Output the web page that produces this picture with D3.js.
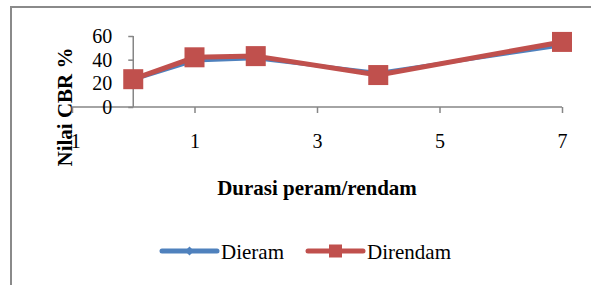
<!DOCTYPE html>
<html><head><meta charset="utf-8">
<script src="https://cdn.jsdelivr.net/npm/d3@7"></script>
<style>body{margin:0;background:#fff}svg{display:block}</style>
</head><body><svg id="c" width="591" height="285"></svg>
<script>
const durations = [0, 1, 2, 4, 7];
const dieram = [23, 39, 41, 29, 52];
const direndam = [23.5, 42, 43, 27, 55];
const xTicks = [-1, 1, 3, 5, 7];
const yTicks = [0, 20, 40, 60];
const seriesNames = ["Dieram", "Direndam"];
const colors = ["#4F81BD", "#C0504D"];
const FONT = "'Liberation Serif', 'Times New Roman', serif";

const svg = d3.select("#c");
// frame
svg.append("rect").attr("x", 11).attr("y", 7).attr("width", 620).attr("height", 320)
  .attr("fill", "none").attr("stroke", "#8a8a8a").attr("stroke-width", 2);

const x = d3.scaleLinear().domain([-1, 7]).range([72, 562]);
const y = d3.scaleLinear().domain([0, 60]).range([107, 36]);
const axisColor = "#868686";

// y title (drawn first so the tick label "-1" stays on top)
svg.append("text").attr("transform", "translate(72,107) rotate(-90)").attr("text-anchor", "middle")
  .attr("font-size", 21).attr("font-weight", "bold").text("Nilai CBR %");

// x axis
const gx = svg.append("g").attr("transform", `translate(0,${y(0)})`)
  .call(d3.axisBottom(x).tickValues(xTicks).tickSize(6).tickFormat(d => String(d)));
gx.select(".domain").attr("stroke", axisColor).attr("stroke-width", 1.5).attr("d", `M${x(-1)},0H${x(7)}`);
gx.selectAll(".tick line").attr("stroke", axisColor).attr("stroke-width", 1.5);
gx.selectAll(".tick text").attr("font-size", 20).attr("fill", "#000").attr("dy", null).attr("y", 41);

// y axis
const gy = svg.append("g").attr("transform", `translate(${x(0)},0)`)
  .call(d3.axisLeft(y).tickValues(yTicks).tickSize(5).tickPadding(16).tickFormat(d => String(d)));
gy.select(".domain").attr("stroke", axisColor).attr("stroke-width", 1.5).attr("d", `M0,${y(60)}V${y(0)}`);
gy.selectAll(".tick line").attr("stroke", axisColor).attr("stroke-width", 1.5);
gy.selectAll(".tick text").attr("font-size", 20).attr("fill", "#000").attr("dy", "0.33em");

const line = d3.line().x((d, i) => x(durations[i])).y(d => y(d));
const diamond = r => `M0,${-r}L${r},0L0,${r}L${-r},0Z`;

// Dieram (blue)
svg.append("path").datum(dieram).attr("d", line).attr("fill", "none")
  .attr("stroke", colors[0]).attr("stroke-width", 3.5).attr("stroke-linejoin", "round");
svg.append("g").selectAll("path").data(dieram).join("path")
  .attr("d", diamond(5))
  .attr("transform", (d, i) => `translate(${x(durations[i])},${y(d)})`)
  .attr("fill", colors[0]);

// Direndam (red)
svg.append("path").datum(direndam).attr("d", line).attr("fill", "none")
  .attr("stroke", colors[1]).attr("stroke-width", 5).attr("stroke-linejoin", "round");
const s = 20;
svg.append("g").selectAll("rect").data(direndam).join("rect")
  .attr("x", (d, i) => x(durations[i]) - s / 2).attr("y", d => y(d) - s / 2)
  .attr("width", s).attr("height", s).attr("fill", colors[1]);

// x title
svg.append("text").attr("x", 317).attr("y", 195).attr("text-anchor", "middle")
  .attr("font-size", 21).attr("font-weight", "bold").text("Durasi peram/rendam");

// legend
const leg = [{x0: 162, name: seriesNames[0], c: colors[0]}, {x0: 308, name: seriesNames[1], c: colors[1]}];
const ly = 251;
leg.forEach((l, i) => {
  svg.append("line").attr("x1", l.x0).attr("x2", l.x0 + 55).attr("y1", ly).attr("y2", ly)
    .attr("stroke", l.c).attr("stroke-width", 5).attr("stroke-linecap", "round");
  if (i === 0) {
    svg.append("path").attr("d", diamond(4.5)).attr("transform", `translate(${l.x0 + 27.5},${ly})`).attr("fill", l.c);
  } else {
    svg.append("rect").attr("x", l.x0 + 27.5 - 6.5).attr("y", ly - 6.5).attr("width", 13).attr("height", 13).attr("fill", l.c);
  }
  svg.append("text").attr("x", l.x0 + 59).attr("y", 259).attr("font-size", 21).text(l.name);
});

svg.selectAll("text").style("font-family", FONT);
</script></body></html>
